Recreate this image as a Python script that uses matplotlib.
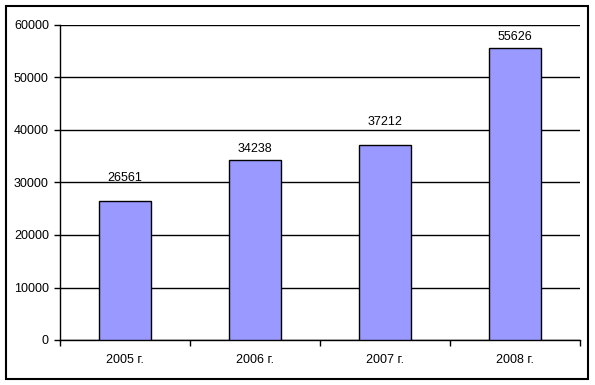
import matplotlib
matplotlib.use("Agg")
import matplotlib.pyplot as plt
from matplotlib.patches import Rectangle

categories = ["2005 г.", "2006 г.", "2007 г.", "2008 г."]
values = [26561, 34238, 37212, 55626]
yticks = [0, 10000, 20000, 30000, 40000, 50000, 60000]

plt.rcParams['font.family'] = ['Liberation Sans', 'DejaVu Sans']
plt.rcParams['font.size'] = 9

W, H = 595, 385
fig = plt.figure(figsize=(W / 100, H / 100), dpi=100)

# outer frame
fig.patches.append(Rectangle((5.5 / W, 6 / H), 582.5 / W, 373.5 / H, transform=fig.transFigure,
                             facecolor="white", edgecolor="black", linewidth=1.5, zorder=-2))

ax = fig.add_axes([60 / W, 45 / H, 520 / W, 315 / H])
ax.set_facecolor("none")
x = list(range(len(categories)))
ax.bar(x, values, width=0.4, color="#9999FF", edgecolor="black", linewidth=1.0, zorder=3)
# label offsets (points) as placed in the original
label_pad = [12, 4, 12, 3.5]
for xi, v, p in zip(x, values, label_pad):
    ax.annotate(str(v), (xi, v), xytext=(0, p), textcoords="offset points",
                ha="center", va="bottom", fontsize=9)

ax.set_xlim(-0.5, len(categories) - 0.5)
ax.set_ylim(0, 60000)
ax.set_yticks(yticks)
ax.set_yticklabels([str(t) for t in yticks])
ax.yaxis.grid(True, color="black", linewidth=1.0, zorder=0)
ax.set_axisbelow(True)
ax.set_xticks(x)
ax.set_xticklabels(categories)
ax.set_xticks([i - 0.5 for i in range(len(categories) + 1)], minor=True)
ax.tick_params(axis="x", which="major", length=0, pad=10)
ax.tick_params(axis="x", which="minor", length=4, width=1, direction="out")
ax.tick_params(axis="y", length=4, width=1, direction="out", pad=4)
for s in ["top", "right"]:
    ax.spines[s].set_visible(False)
for s in ["left", "bottom"]:
    ax.spines[s].set_linewidth(1.0)

fig.savefig("out.png", dpi=100)
